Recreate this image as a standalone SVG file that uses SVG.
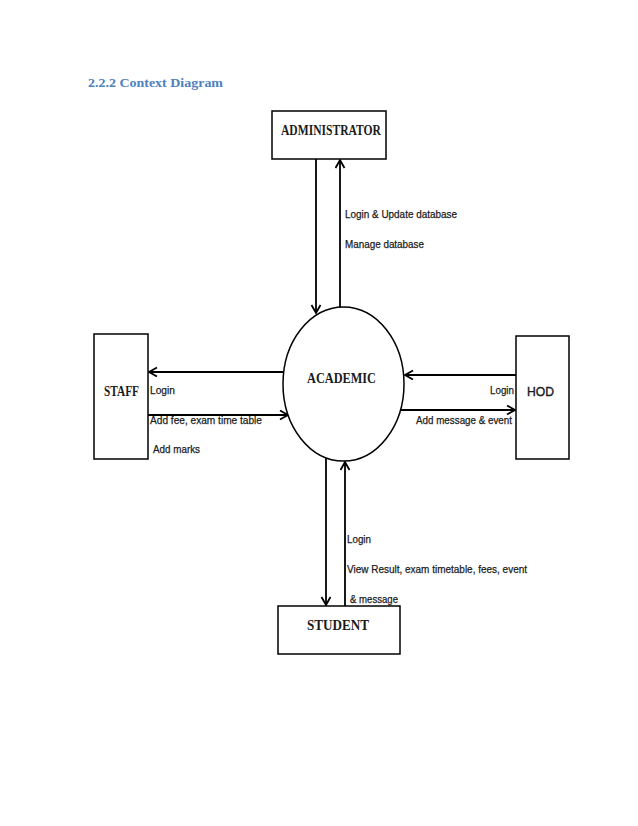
<svg xmlns="http://www.w3.org/2000/svg" width="638" height="826" viewBox="0 0 638 826">
<style>
.box{fill:#fff;stroke:#000;stroke-width:1.5}
.ln{fill:none;stroke:#000;stroke-width:1.8}
.lbl{font-family:"Liberation Sans",sans-serif;font-size:11.5px;fill:#1a1a1a;stroke:#1a1a1a;stroke-width:0.25}
.bold{font-family:"Liberation Serif",serif;font-weight:bold;font-size:14px;fill:#1a1a1a}
.title{font-family:"Liberation Serif",serif;font-weight:bold;font-size:12px;fill:#4f81bd}
</style>
<defs>
<marker id="ah" markerUnits="userSpaceOnUse" markerWidth="14" markerHeight="14" refX="10" refY="5" orient="auto">
<path d="M2,0.5 L10,5 L2,9.5" fill="none" stroke="#000" stroke-width="1.8"/>
</marker>
</defs>
<rect width="638" height="826" fill="#fff"/>
<text class="title" x="88" y="87" textLength="135" lengthAdjust="spacingAndGlyphs">2.2.2 Context Diagram</text>

<g id="connectors">
<line class="ln" x1="316" y1="159" x2="316" y2="313" marker-end="url(#ah)"/>
<line class="ln" x1="340" y1="307" x2="340" y2="160" marker-end="url(#ah)"/>
<line class="ln" x1="284" y1="372" x2="149" y2="372" marker-end="url(#ah)"/>
<line class="ln" x1="148" y1="415" x2="288" y2="415" marker-end="url(#ah)"/>
<line class="ln" x1="516" y1="375" x2="405" y2="375" marker-end="url(#ah)"/>
<line class="ln" x1="400" y1="410" x2="515" y2="410" marker-end="url(#ah)"/>
<line class="ln" x1="326" y1="456" x2="326" y2="605" marker-end="url(#ah)"/>
<line class="ln" x1="345" y1="606" x2="345" y2="462" marker-end="url(#ah)"/>
<text class="lbl" x="345" y="218" textLength="112" lengthAdjust="spacingAndGlyphs">Login &amp; Update database</text>
<text class="lbl" x="345" y="248" textLength="79" lengthAdjust="spacingAndGlyphs">Manage database</text>
<text class="lbl" x="150" y="394" textLength="25" lengthAdjust="spacingAndGlyphs">Login</text>
<text class="lbl" x="150" y="424" textLength="112" lengthAdjust="spacingAndGlyphs">Add fee, exam time table</text>
<text class="lbl" x="153" y="453" textLength="47" lengthAdjust="spacingAndGlyphs">Add marks</text>
<text class="lbl" x="490" y="394" textLength="24" lengthAdjust="spacingAndGlyphs">Login</text>
<text class="lbl" x="416" y="424" textLength="96" lengthAdjust="spacingAndGlyphs">Add message &amp; event</text>
<text class="lbl" x="347" y="543" textLength="24" lengthAdjust="spacingAndGlyphs">Login</text>
<text class="lbl" x="347" y="573" textLength="180" lengthAdjust="spacingAndGlyphs">View Result, exam timetable, fees, event</text>
<text class="lbl" x="350" y="603" textLength="48" lengthAdjust="spacingAndGlyphs">&amp; message</text>
</g>

<g id="administrator">
<rect class="box" x="272" y="111" width="114" height="48"/>
<text class="bold" x="281" y="135" textLength="100" lengthAdjust="spacingAndGlyphs">ADMINISTRATOR</text>
</g>
<g id="academic">
<ellipse class="box" cx="343.5" cy="384" rx="60.5" ry="77"/>
<text class="bold" x="307" y="383" font-size="17" textLength="69" lengthAdjust="spacingAndGlyphs">ACADEMIC</text>
</g>
<g id="staff">
<rect class="box" x="94" y="334" width="54" height="125"/>
<text class="bold" x="104" y="396" textLength="35" lengthAdjust="spacingAndGlyphs">STAFF</text>
</g>
<g id="hod">
<rect class="box" x="516" y="336" width="53" height="123"/>
<text x="527" y="396" font-family="Liberation Sans, sans-serif" font-size="13" fill="#1a1a1a" stroke="#1a1a1a" stroke-width="0.4" textLength="27" lengthAdjust="spacingAndGlyphs">HOD</text>
</g>
<g id="student">
<rect class="box" x="278" y="606" width="122" height="48"/>
<text class="bold" x="307" y="630" font-size="15" textLength="62" lengthAdjust="spacingAndGlyphs">STUDENT</text>
</g>
</svg>
